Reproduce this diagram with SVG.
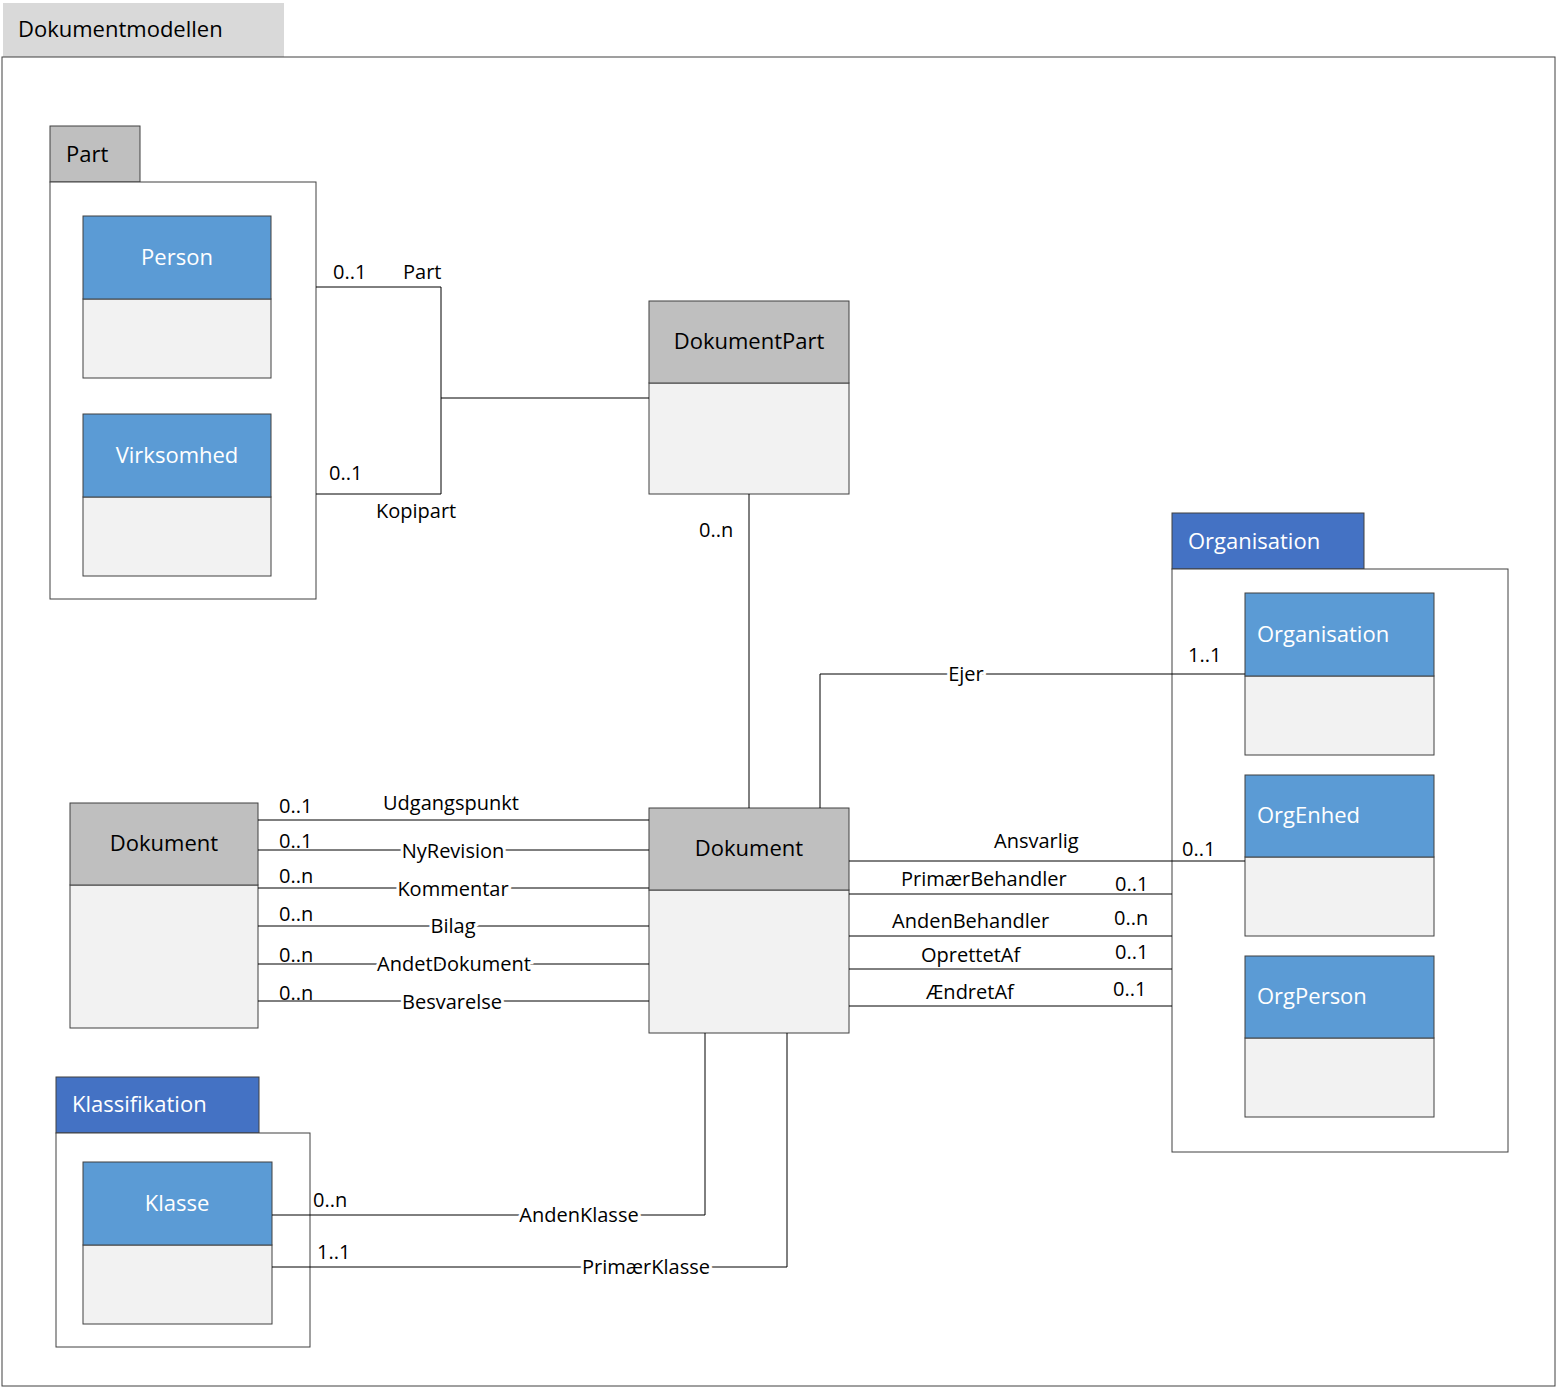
<svg xmlns="http://www.w3.org/2000/svg" width="1557" height="1388" viewBox="0 0 1557 1388">
<style>
text{font-family:"Open Sans","Liberation Sans",sans-serif;font-size:20px;fill:#000}
.t{font-size:22px}
.w{fill:#fff}
.c{text-anchor:middle}
.hb{fill:#5b9bd5;stroke:#404040;stroke-width:1}
.hg{fill:#bfbfbf;stroke:#404040;stroke-width:1}
.bd{fill:#f2f2f2;stroke:#404040;stroke-width:1}
.pk{fill:#fff;stroke:#404040;stroke-width:1}
.ln{fill:none;stroke:#000;stroke-width:1}
.lb{stroke:#fff;stroke-width:6;paint-order:stroke}
</style>
<rect x="0" y="0" width="1557" height="1388" fill="#fff"/>
<g id="frame">
<rect x="3" y="3" width="281" height="54" fill="#d9d9d9"/>
<text x="18" y="37" class="t">Dokumentmodellen</text>
<rect x="2" y="57" width="1553" height="1329" class="pk"/>
</g>
<g id="pkg-part">
<rect x="50" y="126" width="90" height="56" class="hg"/>
<text x="66" y="162" class="t">Part</text>
<rect x="50" y="182" width="266" height="417" class="pk"/>
</g>
<g id="person"><rect x="83" y="299" width="188" height="79" class="bd"/><rect x="83" y="216" width="188" height="83" class="hb"/><text x="177" y="265" class="t w c">Person</text></g>
<g id="virksomhed"><rect x="83" y="497" width="188" height="79" class="bd"/><rect x="83" y="414" width="188" height="83" class="hb"/><text x="177" y="463" class="t w c">Virksomhed</text></g>
<g id="dokumentpart"><rect x="649" y="383" width="200" height="111" class="bd"/><rect x="649" y="301" width="200" height="82" class="hg"/><text x="749" y="349" class="t c">DokumentPart</text></g>
<g id="pkg-org">
<rect x="1172" y="513" width="192" height="56" fill="#4472c4" stroke="#404040"/>
<text x="1188" y="549" class="t w">Organisation</text>
<rect x="1172" y="569" width="336" height="583" class="pk"/>
</g>
<g id="organisation"><rect x="1245" y="676" width="189" height="79" class="bd"/><rect x="1245" y="593" width="189" height="83" class="hb"/><text x="1257" y="642" class="t w">Organisation</text></g>
<g id="orgenhed"><rect x="1245" y="857" width="189" height="79" class="bd"/><rect x="1245" y="775" width="189" height="82" class="hb"/><text x="1257" y="823" class="t w">OrgEnhed</text></g>
<g id="orgperson"><rect x="1245" y="1038" width="189" height="79" class="bd"/><rect x="1245" y="956" width="189" height="82" class="hb"/><text x="1257" y="1004" class="t w">OrgPerson</text></g>
<g id="dokument"><rect x="649" y="890" width="200" height="143" class="bd"/><rect x="649" y="808" width="200" height="82" class="hg"/><text x="749" y="856" class="t c">Dokument</text></g>
<g id="dokument-left"><rect x="70" y="885" width="188" height="143" class="bd"/><rect x="70" y="803" width="188" height="82" class="hg"/><text x="164" y="851" class="t c">Dokument</text></g>
<g id="pkg-klass">
<rect x="56" y="1077" width="203" height="56" fill="#4472c4" stroke="#404040"/>
<text x="72" y="1112" class="t w">Klassifikation</text>
<rect x="56" y="1133" width="254" height="214" class="pk"/>
</g>
<g id="klasse"><rect x="83" y="1245" width="189" height="79" class="bd"/><rect x="83" y="1162" width="189" height="83" class="hb"/><text x="177" y="1211" class="t w c">Klasse</text></g>
<g id="connectors">
<path class="ln" d="M316 287H441V494H316M441 398H649"/>
<text x="333" y="279">0..1</text><text x="403" y="279">Part</text>
<text x="329" y="480">0..1</text><text x="376" y="518">Kopipart</text>
<path class="ln" d="M749 494V808"/><text x="699" y="537">0..n</text>
<path class="ln" d="M820 808V674H1245"/><text x="966" y="681" class="c lb">Ejer</text><text x="1188" y="662">1..1</text>
<path class="ln" d="M849 861H1245M849 894H1172M849 936H1172M849 969H1172M849 1006H1172"/>
<text x="994" y="848">Ansvarlig</text><text x="1182" y="856">0..1</text>
<text x="901" y="886">PrimærBehandler</text><text x="1115" y="891">0..1</text>
<text x="892" y="928">AndenBehandler</text><text x="1114" y="925">0..n</text>
<text x="921" y="962">OprettetAf</text><text x="1115" y="959">0..1</text>
<text x="926" y="999">ÆndretAf</text><text x="1113" y="996">0..1</text>
<path class="ln" d="M258 820H649M258 850H649M258 888H649M258 926H649M258 964H649M258 1001H649"/>
<text x="383" y="810">Udgangspunkt</text>
<text x="453" y="858" class="c lb">NyRevision</text>
<text x="453" y="896" class="c lb">Kommentar</text>
<text x="453" y="933" class="c lb">Bilag</text>
<text x="454" y="971" class="c lb">AndetDokument</text>
<text x="452" y="1009" class="c lb">Besvarelse</text>
<text x="279" y="813">0..1</text><text x="279" y="848">0..1</text><text x="279" y="883">0..n</text>
<text x="279" y="921">0..n</text><text x="279" y="962">0..n</text><text x="279" y="1000">0..n</text>
<path class="ln" d="M272 1215H705V1033M272 1267H787V1033"/>
<text x="579" y="1222" class="c lb">AndenKlasse</text><text x="313" y="1207">0..n</text>
<text x="646" y="1274" class="c lb">PrimærKlasse</text><text x="317" y="1259">1..1</text>
</g>
</svg>
